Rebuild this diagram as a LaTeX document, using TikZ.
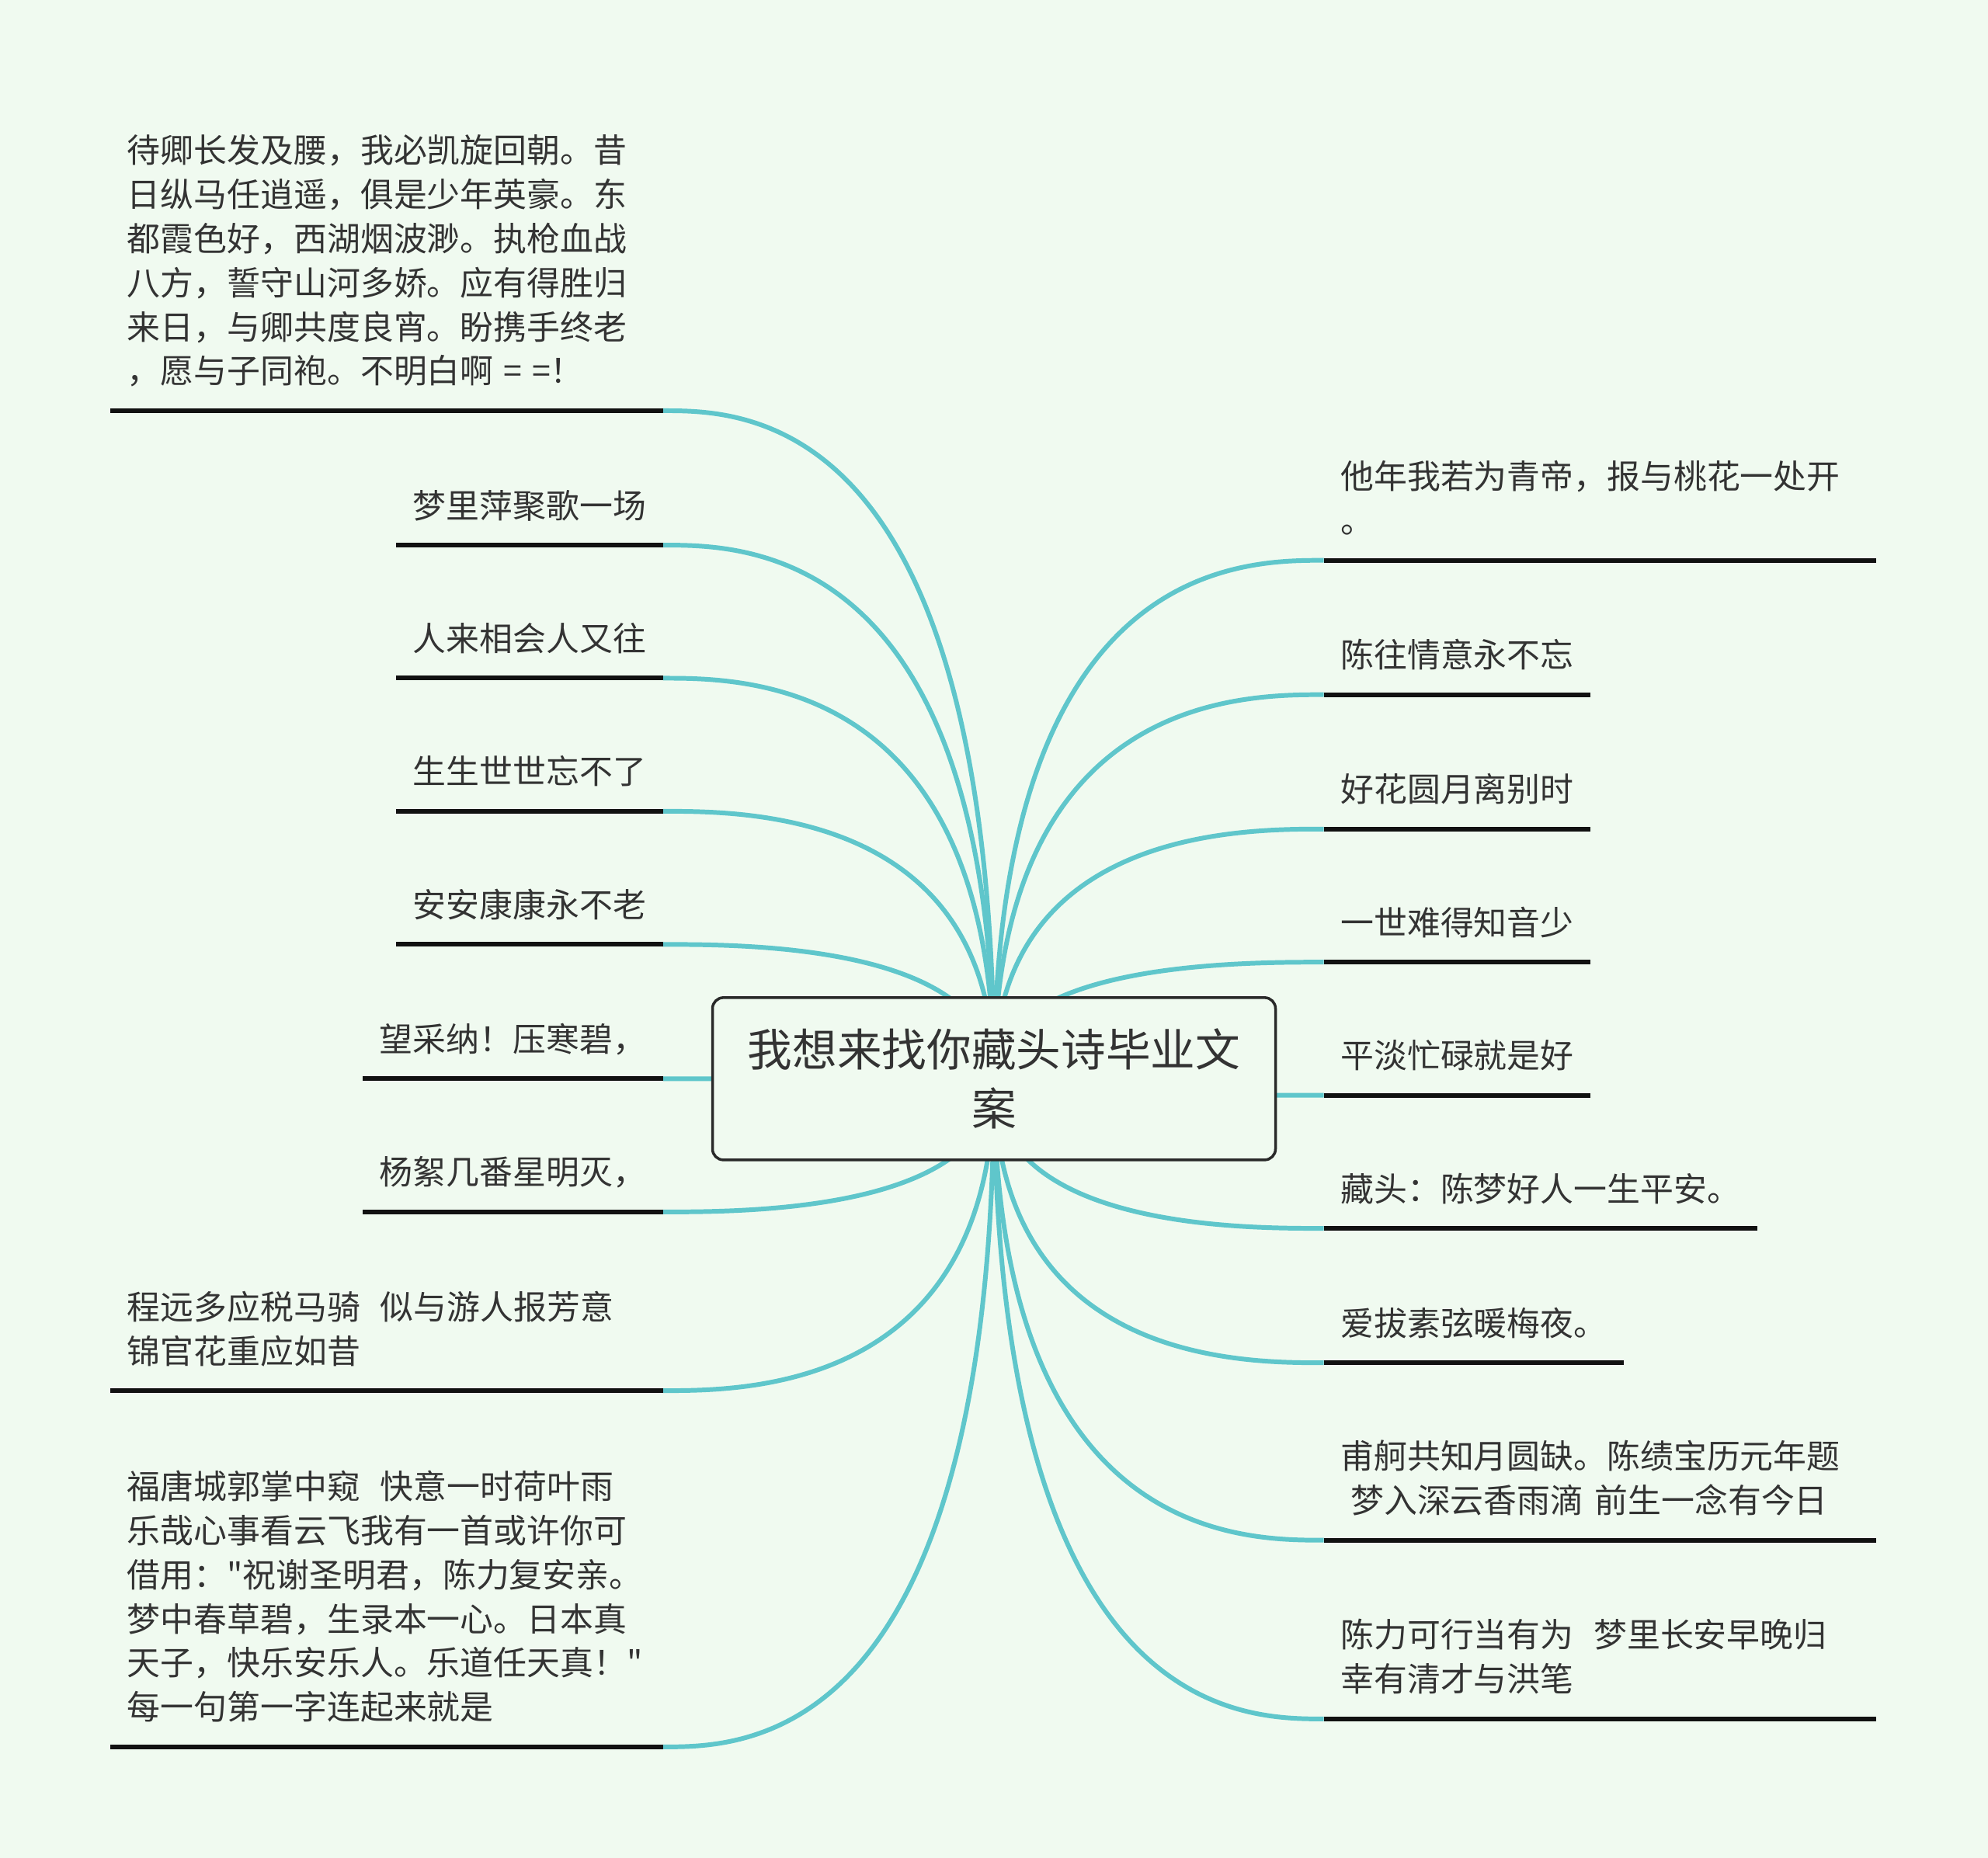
\documentclass[tikz,border=0pt]{standalone}
\usepackage{fontspec}
\usepackage{tikz}
\usetikzlibrary{calc,positioning}
\newfontfamily\cjk{Noto Sans CJK SC}
\definecolor{mmbg}{HTML}{F0FAF0}
\definecolor{mmteal}{HTML}{5FC6CB}
\definecolor{mmink}{HTML}{333333}
\definecolor{mmrule}{HTML}{111111}
\pgfdeclarelayer{back}
\pgfsetlayers{back,main}
\tikzset{
  rootBox/.style={draw=mmink!80!black, fill=mmbg, rounded corners=4pt, line width=1pt, minimum width=7.25cm, minimum height=2.09cm, align=center, inner sep=0pt, text=mmink, font=\cjk\fontsize{16.4pt}{21.8pt}\selectfont},
  leafText/.style={align=left, inner xsep=0.212cm, inner ysep=0pt, text=mmink, font=\cjk\fontsize{12.2pt}{16.2pt}\selectfont, execute at end node={\rule[-0.343cm]{0pt}{0.343cm}}},
  wideLeaf/.style={leafText, text width=6.68cm},
  leafRule/.style={draw=mmrule, line width=1.7pt},
  branchLine/.style={draw=mmteal, line width=1.7pt, to path={.. controls (\tikztostart |- \tikztotarget) and ($(\tikztostart |- \tikztotarget)!0.75!(\tikztotarget)$) .. (\tikztotarget)}}
}

\begin{document}
\begin{tikzpicture}
  \begin{pgfonlayer}{back}
    \fill[mmbg] (0,0) rectangle (25.6,23.93);
  \end{pgfonlayer}
  \useasboundingbox (0,0) rectangle (25.6,23.93);
  \node[rootBox] (root) at (12.80,10.036) {我想来找你藏头诗毕业文\\案};
  % left side
  \node[wideLeaf, anchor=south east] (l1) at (8.539,18.640) {待卿长发及腰，我必凯旋回朝。昔\\日纵马任逍遥，俱是少年英豪。东\\都霞色好，西湖烟波渺。执枪血战\\八方，誓守山河多娇。应有得胜归\\来日，与卿共度良宵。盼携手终老\\，愿与子同袍。不明白啊\hspace{0.3em}=\hspace{0.3em}=！};
  \node[leafText, anchor=south east] (l2) at (8.539,16.909) {梦里萍聚歌一场};
  \node[leafText, anchor=south east] (l3) at (8.539,15.195) {人来相会人又往};
  \node[leafText, anchor=south east] (l4) at (8.539,13.481) {生生世世忘不了};
  \node[leafText, anchor=south east] (l5) at (8.539,11.766) {安安康康永不老};
  \node[leafText, anchor=south east] (l6) at (8.539,10.036) {望采纳！压寒碧，};
  \node[leafText, anchor=south east] (l7) at (8.539,8.321) {杨絮几番星明灭，};
  \node[wideLeaf, anchor=south east] (l8) at (8.539,6.019) {程远多应税马骑\hspace{0.6em}似与游人报芳意\\锦官花重应如昔};
  \node[wideLeaf, anchor=south east] (l9) at (8.539,1.431) {福唐城郭掌中窥\hspace{0.6em}快意一时荷叶雨\\乐哉心事看云飞我有一首或许你可\\借用："祝谢圣明君，陈力复安亲。\\梦中春草碧，生录本一心。日本真\\天子，快乐安乐人。乐道任天真！"\\每一句第一字连起来就是};
  % right side
  \node[wideLeaf, anchor=south west] (r1) at (17.045,16.713) {他年我若为青帝，报与桃花一处开\\。};
  \node[leafText, anchor=south west] (r2) at (17.045,14.983) {陈往情意永不忘};
  \node[leafText, anchor=south west] (r3) at (17.045,13.252) {好花圆月离别时};
  \node[leafText, anchor=south west] (r4) at (17.045,11.538) {一世难得知音少};
  \node[leafText, anchor=south west] (r5) at (17.045,9.823) {平淡忙碌就是好};
  \node[leafText, anchor=south west] (r6) at (17.045,8.109) {藏头：陈梦好人一生平安。};
  \node[leafText, anchor=south west] (r7) at (17.045,6.378) {爱拔素弦暖梅夜。};
  \node[wideLeaf, anchor=south west] (r8) at (17.045,4.093) {甫舸共知月圆缺。陈绩宝历元年题\\\hspace{0.3em}梦入深云香雨滴 前生一念有今日};
  \node[wideLeaf, anchor=south west] (r9) at (17.045,1.791) {陈力可行当有为\hspace{0.6em}梦里长安早晚归\\幸有清才与洪笔};
  \foreach \n in {l1,l2,l3,l4,l5,l6,l7,l8,l9,r1,r2,r3,r4,r5,r6,r7,r8,r9}
    \draw[leafRule] (\n.south west) -- (\n.south east);
  \begin{pgfonlayer}{back}
    \foreach \n in {l1,l2,l3,l4,l5,l6,l7,l8,l9}
      \draw[branchLine] (root.center) to (\n.south east);
    \foreach \n in {r1,r2,r3,r4,r5,r6,r7,r8,r9}
      \draw[branchLine] (root.center) to (\n.south west);
  \end{pgfonlayer}
\end{tikzpicture}
\end{document}
